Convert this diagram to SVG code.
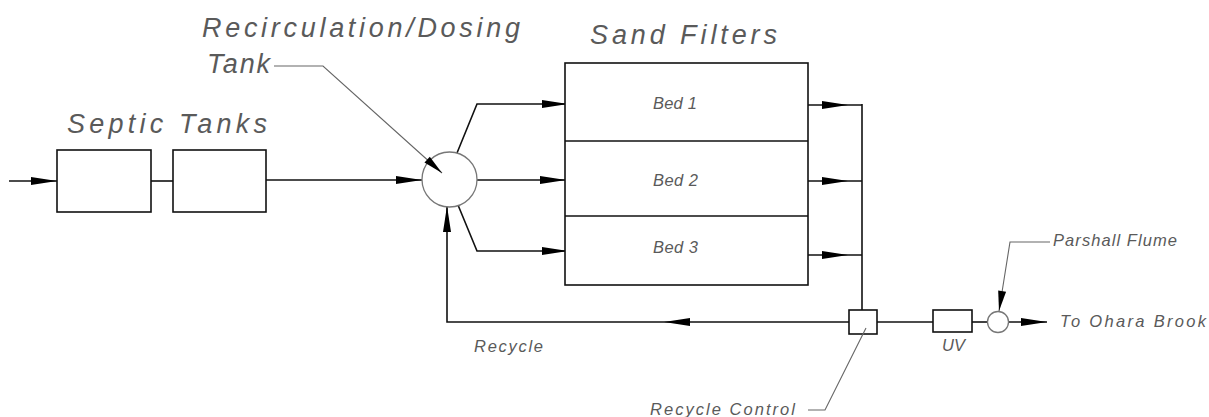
<svg xmlns="http://www.w3.org/2000/svg" xmlns:xlink="http://www.w3.org/1999/xlink" width="1209" height="417" viewBox="0 0 1209 417">
  <style>
    .pipe { fill: none; stroke: #111; stroke-width: 1.6; }
    .unit { fill: #fff; stroke: #111; stroke-width: 1.6; }
    .tankc { fill: #fff; stroke: #777; stroke-width: 1.3; }
    .lead { fill: none; stroke: #666; stroke-width: 1.1; }
    .head { fill: #000; }
    .t { font-family: "Liberation Sans", Arial, sans-serif; font-style: italic; fill: #5a5a5a; }
    .big { font-size: 27px; }
    .sm { font-size: 16.5px; }
  </style>
  <defs>
    <!-- filled CAD arrowhead, tip at the origin pointing along +x -->
    <path id="arw" class="head" d="M0,0 L-26,-4 L-26,4 Z"/>
    <path id="arwS" class="head" d="M0,0 L-20,-4 L-20,4 Z"/>
  </defs>

  <!-- flow lines and arrowheads -->
  <g id="connectors">
    <!-- inlet -->
    <line class="pipe" x1="9" y1="181" x2="57" y2="181"/>
    <use xlink:href="#arw" transform="translate(57,181)"/>
    <!-- tank 1 to tank 2 -->
    <line class="pipe" x1="151" y1="181" x2="173" y2="181"/>
    <!-- tank 2 to dosing tank -->
    <line class="pipe" x1="266" y1="180" x2="422" y2="180"/>
    <use xlink:href="#arw" transform="translate(422,180)"/>
    <!-- dosing tank to beds -->
    <polyline class="pipe" points="457,153 477,104 568,104"/>
    <use xlink:href="#arw" transform="translate(568,104)"/>
    <line class="pipe" x1="477" y1="180" x2="566" y2="180"/>
    <use xlink:href="#arw" transform="translate(566,180)"/>
    <polyline class="pipe" points="458,205 477,251 568,251"/>
    <use xlink:href="#arw" transform="translate(568,251)"/>
    <!-- bed outlets to collector -->
    <line class="pipe" x1="808" y1="105" x2="862" y2="105"/>
    <use xlink:href="#arw" transform="translate(848,105)"/>
    <line class="pipe" x1="808" y1="181" x2="862" y2="181"/>
    <use xlink:href="#arw" transform="translate(848,181)"/>
    <line class="pipe" x1="808" y1="255" x2="862" y2="255"/>
    <use xlink:href="#arw" transform="translate(848,255)"/>
    <line class="pipe" x1="862" y1="104" x2="862" y2="310"/>
    <!-- recycle return -->
    <polyline class="pipe" points="849,322 447,322 447,207"/>
    <use xlink:href="#arw" transform="translate(664,322) rotate(180)"/>
    <use xlink:href="#arw" transform="translate(447,206) rotate(-90)"/>
    <!-- effluent -->
    <line class="pipe" x1="877" y1="322" x2="933" y2="322"/>
    <line class="pipe" x1="972" y1="322" x2="988" y2="322"/>
    <line class="pipe" x1="1008" y1="322" x2="1047" y2="322"/>
    <use xlink:href="#arw" transform="translate(1047,322)"/>
  </g>

  <g id="septic-tank-1">
    <rect class="unit" x="57" y="150" width="94" height="62"/>
  </g>
  <g id="septic-tank-2">
    <rect class="unit" x="173" y="150" width="93" height="62"/>
  </g>
  <g id="septic-label">
    <text class="t big" x="67" y="133" textLength="200" lengthAdjust="spacing">Septic Tanks</text>
  </g>

  <g id="dosing-tank">
    <circle class="tankc" cx="449.5" cy="179.5" r="27.5"/>
    <text class="t big" x="202" y="37" textLength="318" lengthAdjust="spacing">Recirculation/Dosing</text>
    <text class="t big" x="207" y="73" textLength="63" lengthAdjust="spacing">Tank</text>
    <polyline class="lead" points="274,66 323,66 442,173"/>
    <use xlink:href="#arwS" transform="translate(442,173) rotate(42)"/>
  </g>

  <g id="sand-filters">
    <text class="t big" x="590" y="44" textLength="187" lengthAdjust="spacing">Sand Filters</text>
    <rect class="unit" x="565" y="63" width="243" height="222"/>
    <line class="pipe" x1="565" y1="141" x2="808" y2="141"/>
    <line class="pipe" x1="565" y1="216" x2="808" y2="216"/>
  </g>
  <g id="bed-1">
    <text class="t sm" x="653" y="109" textLength="44" lengthAdjust="spacing">Bed 1</text>
  </g>
  <g id="bed-2">
    <text class="t sm" x="653" y="186" textLength="45" lengthAdjust="spacing">Bed 2</text>
  </g>
  <g id="bed-3">
    <text class="t sm" x="653" y="253" textLength="45" lengthAdjust="spacing">Bed 3</text>
  </g>

  <g id="recycle-label">
    <text class="t sm" x="474" y="352" textLength="69" lengthAdjust="spacing">Recycle</text>
  </g>

  <g id="recycle-control">
    <rect class="unit" x="849" y="310" width="28" height="24"/>
    <polyline class="lead" points="866,328 825,410 808,410"/>
    <text class="t sm" x="650" y="415" textLength="145" lengthAdjust="spacing">Recycle Control</text>
  </g>

  <g id="uv">
    <rect class="unit" x="933" y="310" width="39" height="22"/>
    <text class="t sm" x="942" y="351" textLength="23" lengthAdjust="spacing">UV</text>
  </g>

  <g id="parshall-flume">
    <circle class="tankc" cx="998" cy="322" r="10.5"/>
    <polyline class="lead" points="1050,242 1010,242 999,311"/>
    <use xlink:href="#arwS" transform="translate(999,311) rotate(99)"/>
    <text class="t sm" x="1053" y="246" textLength="124" lengthAdjust="spacing">Parshall Flume</text>
  </g>

  <g id="outfall">
    <text class="t sm" x="1060" y="327" textLength="146" lengthAdjust="spacing">To Ohara Brook</text>
  </g>
</svg>
